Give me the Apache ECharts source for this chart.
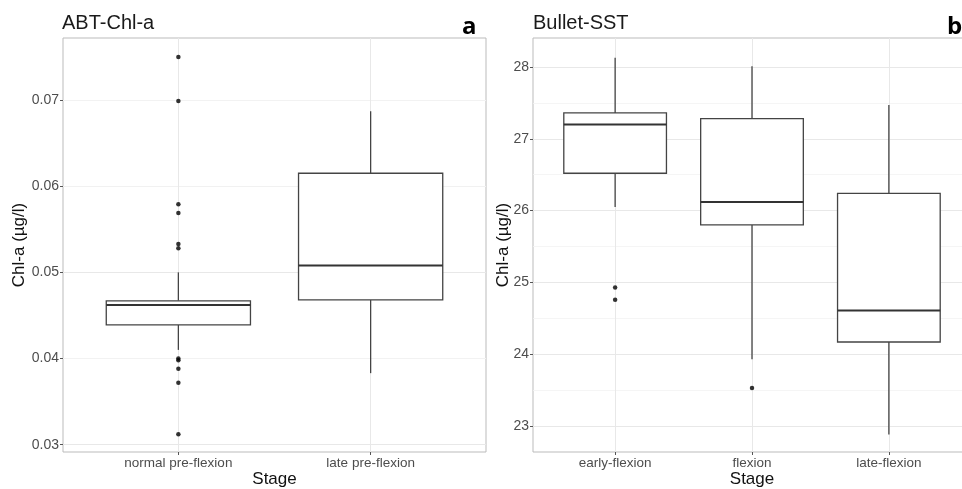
<!DOCTYPE html>
<html>
<head>
<meta charset="utf-8">
<script src="https://cdn.jsdelivr.net/npm/echarts@6/dist/echarts.min.js"></script>
<style>
  html, body { margin: 0; padding: 0; background: #fff; }
  #chart { width: 962px; height: 489px; }
</style>
</head>
<body>
<div id="chart"></div>
<script>
// panel a: ABT-Chl-a
var stagesA = ['normal pre-flexion', 'late pre-flexion'];
// [lower whisker, Q1, median, Q3, upper whisker]
var boxesA = [
    [0.0410, 0.0439, 0.0462, 0.0467, 0.0500],
    [0.0383, 0.0468, 0.0508, 0.0615, 0.0687]
];
var outliersA = [0.0750, 0.0699, 0.0579, 0.0569, 0.0533, 0.0528, 0.0400, 0.0398, 0.0388, 0.0372, 0.0312];
var ticksA = [0.03, 0.04, 0.05, 0.06, 0.07];
var minorA = [0.035, 0.045, 0.055, 0.065, 0.075];

// panel b: Bullet-SST
var stagesB = ['early-flexion', 'flexion', 'late-flexion'];
var boxesB = [
    [26.05, 26.52, 27.20, 27.36, 28.13],
    [23.93, 25.80, 26.12, 27.28, 28.01],
    [22.88, 24.17, 24.61, 26.24, 27.47]
];
var outliersB = [[1, 24.93], [1, 24.76], [2, 23.53]];
var ticksB = [23, 24, 25, 26, 27, 28];
var minorB = [23.5, 24.5, 25.5, 26.5, 27.5];

var font = 'Liberation Sans, Arial, sans-serif';
var lineColor = '#444';

function boxData(boxes) {
    return boxes.map(function (b, i) { return [i + 1].concat(b); });
}

function renderBox(params, api) {
    var x = api.value(0);
    var half = api.size([0.75, 0])[0] / 2;
    var lo = api.coord([x, api.value(1)]);
    var q1 = api.coord([x, api.value(2)]);
    var med = api.coord([x, api.value(3)]);
    var q3 = api.coord([x, api.value(4)]);
    var hi = api.coord([x, api.value(5)]);
    var st = { stroke: lineColor, lineWidth: 1.3 };
    return {
        type: 'group',
        children: [
            { type: 'line', shape: { x1: hi[0], y1: hi[1], x2: q3[0], y2: q3[1] }, style: st },
            { type: 'line', shape: { x1: q1[0], y1: q1[1], x2: lo[0], y2: lo[1] }, style: st },
            { type: 'rect', shape: { x: q3[0] - half, y: q3[1], width: half * 2, height: q1[1] - q3[1] },
              style: { fill: '#fff', stroke: lineColor, lineWidth: 1.3 } },
            { type: 'line', shape: { x1: med[0] - half, y1: med[1], x2: med[0] + half, y2: med[1] },
              style: { stroke: '#333', lineWidth: 2 } }
        ]
    };
}

function gridLines(major, minor, cats) {
    var d = [];
    major.forEach(function (v) { d.push({ yAxis: v, lineStyle: { color: '#e8e8e8', width: 1 } }); });
    minor.forEach(function (v) { d.push({ yAxis: v, lineStyle: { color: '#f2f2f2', width: 0.8 } }); });
    cats.forEach(function (c, i) { d.push({ xAxis: i + 1, lineStyle: { color: '#e8e8e8', width: 1 } }); });
    return d;
}

function xAxisFor(idx, cats) {
    var vals = cats.map(function (c, i) { return i + 1; });
    return {
        type: 'value', gridIndex: idx, min: 0.4, max: cats.length + 0.6,
        name: 'Stage', nameLocation: 'middle', nameGap: 19, nameMoveOverlap: false,
        nameTextStyle: { fontSize: 17, color: '#111', fontFamily: font },
        axisLine: { show: false },
        splitLine: { show: false },
        axisTick: { show: true, length: 3, customValues: vals, lineStyle: { color: '#555' } },
        axisLabel: {
            customValues: vals, margin: 4, fontSize: 13.5, color: '#4d4d4d', fontFamily: font,
            formatter: function (v) { return cats[Math.round(v) - 1]; }
        }
    };
}

function yAxisFor(idx, min, max, ticks, gap) {
    return {
        type: 'value', gridIndex: idx, min: min, max: max,
        name: 'Chl-a (µg/l)', nameLocation: 'middle', nameGap: gap, nameMoveOverlap: false,
        nameTextStyle: { fontSize: 17, color: '#111', fontFamily: font },
        axisLine: { show: false },
        splitLine: { show: false },
        axisTick: { show: true, length: 3, customValues: ticks, lineStyle: { color: '#555' } },
        axisLabel: { customValues: ticks, margin: 4, fontSize: 14, color: '#4d4d4d', fontFamily: font }
    };
}

var option = {
    animation: false,
    backgroundColor: '#fff',
    title: [
        { text: 'ABT-Chl-a', left: 62, top: 13, padding: 0,
          textStyle: { fontSize: 20, fontWeight: 'normal', color: '#1a1a1a', fontFamily: font } },
        { text: 'Bullet-SST', left: 533, top: 13, padding: 0,
          textStyle: { fontSize: 20, fontWeight: 'normal', color: '#1a1a1a', fontFamily: font } },
        { text: 'a', left: 462, top: 15, padding: 0,
          textStyle: { fontSize: 24, fontWeight: 'bold', color: '#000', fontFamily: 'Open Sans, sans-serif' } },
        { text: 'b', left: 947, top: 15, padding: 0,
          textStyle: { fontSize: 24, fontWeight: 'bold', color: '#000', fontFamily: 'Open Sans, sans-serif' } }
    ],
    grid: [
        { left: 63, top: 38, width: 423, height: 414, outerBoundsMode: 'none',
          show: true, borderColor: '#bbb', borderWidth: 1, backgroundColor: '#fff' },
        { left: 533, top: 38, width: 438, height: 414, outerBoundsMode: 'none',
          show: true, borderColor: '#bbb', borderWidth: 1, backgroundColor: '#fff' }
    ],
    xAxis: [xAxisFor(0, stagesA), xAxisFor(1, stagesB)],
    yAxis: [
        yAxisFor(0, 0.02915, 0.0772, ticksA, 35),
        yAxisFor(1, 22.638, 28.404, ticksB, 21)
    ],
    series: [
        {
            type: 'line', xAxisIndex: 0, yAxisIndex: 0, data: [], z: 1,
            markLine: { silent: true, z: 1, symbol: ['none', 'none'], label: { show: false }, animation: false,
                        lineStyle: { type: 'solid' }, data: gridLines(ticksA, minorA, stagesA) }
        },
        {
            type: 'line', xAxisIndex: 1, yAxisIndex: 1, data: [], z: 1,
            markLine: { silent: true, z: 1, symbol: ['none', 'none'], label: { show: false }, animation: false,
                        lineStyle: { type: 'solid' }, data: gridLines(ticksB, minorB, stagesB) }
        },
        {
            type: 'custom', xAxisIndex: 0, yAxisIndex: 0, z: 3, silent: true,
            renderItem: renderBox, encode: { x: 0, y: [1, 2, 3, 4, 5] }, data: boxData(boxesA)
        },
        {
            type: 'custom', xAxisIndex: 1, yAxisIndex: 1, z: 3, silent: true,
            renderItem: renderBox, encode: { x: 0, y: [1, 2, 3, 4, 5] }, data: boxData(boxesB)
        },
        {
            type: 'scatter', xAxisIndex: 0, yAxisIndex: 0, z: 4, symbolSize: 4.5,
            itemStyle: { color: '#000' },
            data: outliersA.map(function (v) { return [1, v]; })
        },
        {
            type: 'scatter', xAxisIndex: 1, yAxisIndex: 1, z: 4, symbolSize: 4.5,
            itemStyle: { color: '#000' }, data: outliersB
        }
    ]
};

window.onload = function () {
    var chart = echarts.init(document.getElementById('chart'));
    chart.setOption(option);
};
</script>
</body>
</html>
